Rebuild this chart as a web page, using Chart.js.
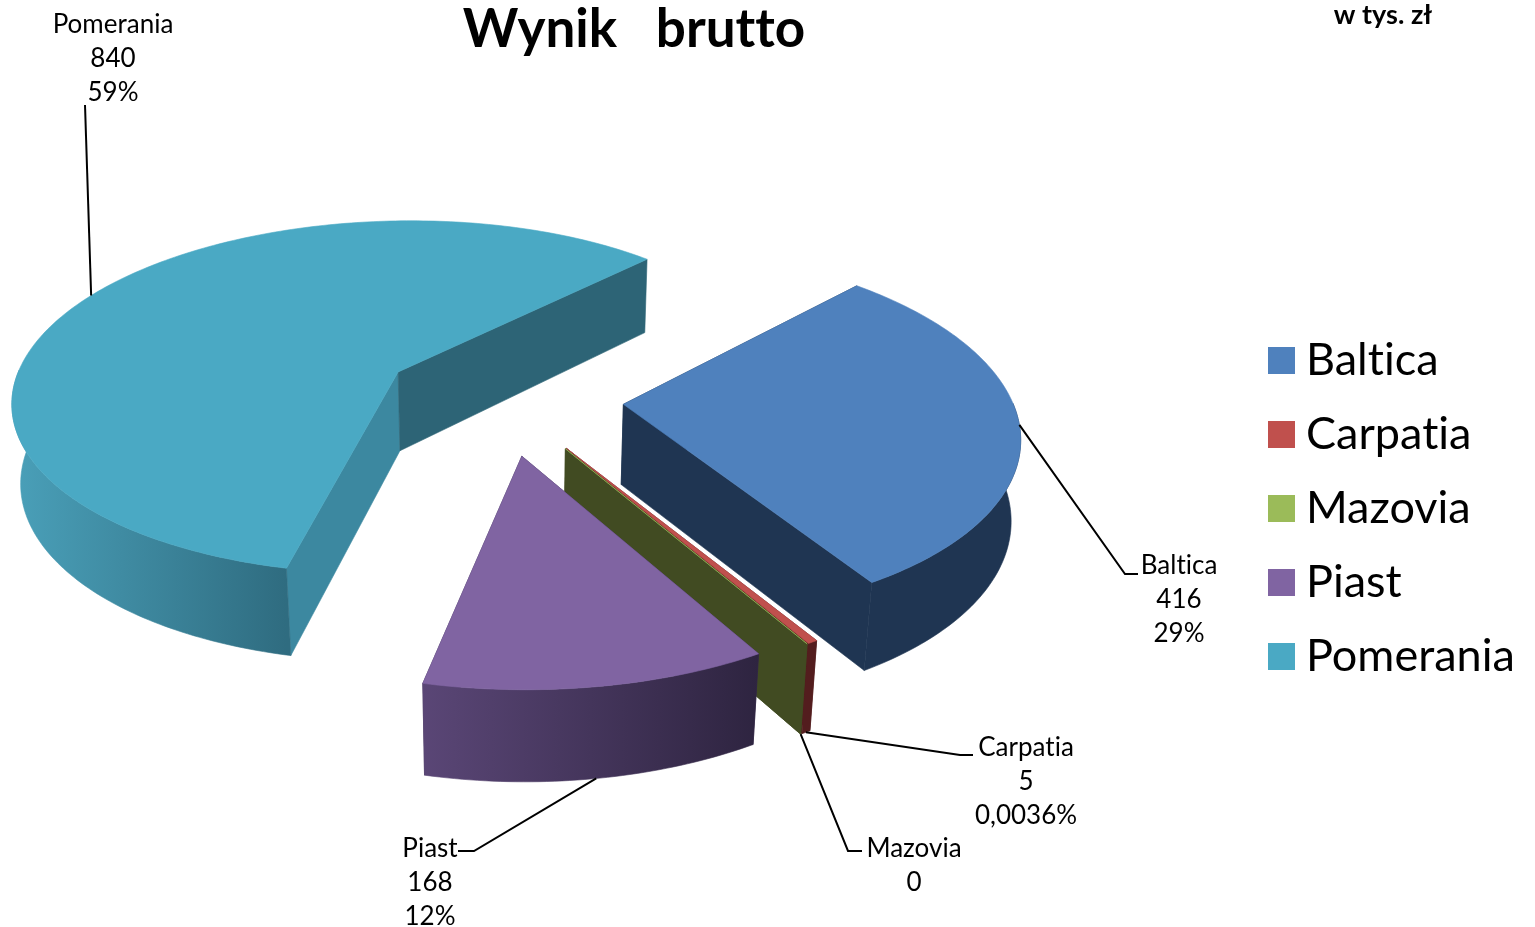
<!DOCTYPE html>
<html>
<head>
<meta charset="utf-8">
<title>Wynik brutto</title>
<script src="https://cdn.jsdelivr.net/npm/chart.js@4"></script>
<style>
    html, body { margin: 0; padding: 0; background: #fff; }
    canvas { display: block; }
</style>
</head>
<body>
<canvas id="pieChart" width="1535" height="927"></canvas>
<script>
const categories = ['Baltica', 'Carpatia', 'Mazovia', 'Piast', 'Pomerania'];
const wynikValues = [416, 5, 0, 168, 840];
const percentLabels = ['29%', '0,0036%', '', '12%', '59%'];

const topColors = ['#4F81BD', '#C0504D', '#9BBB59', '#8064A2', '#4AA9C4'];

// kolory scian bocznych: luk (lewa, prawa strona) i dwie sciany promieniowe
const sideStyles = [
    { arc: ['#1F3552', '#1F3552'], start: '#1F3552', end: '#1F3552' },
    { arc: ['#531D1E', '#531D1E'], start: '#531D1E', end: '#531D1E' },
    { arc: ['#414B22', '#414B22'], start: '#414B22', end: '#414B22' },
    { arc: ['#5A4676', '#2E2440'], start: '#3A2C50', end: '#3A2C50' },
    { arc: ['#4AA0B9', '#2F6C80'], start: '#3C88A0', end: '#2D6476' }
];

// podpisy: srodek tekstu, gorna linia i punkty zalamania linii odniesienia
const labelLayout = [
    { x: 1179, y: 566, bends: [[1125, 574], [1138, 574]], onWall: false },
    { x: 1026, y: 748, bends: [[960, 755], [973, 755]], onWall: true },
    { x: 914, y: 849, bends: [[848, 851], [862, 851]], onWall: true },
    { x: 430, y: 849, bends: [[474, 851], [458, 851]], onWall: true },
    { x: 113, y: 25, bends: [[85, 105]], onWall: false }
];

// kamera dla rzutu 3D
const camera = { cx: 502.5, cy: 398, tilt: 27.7 * Math.PI / 180, dist: 2350 };
const pieRadius = 388;
const explode = 121;
const pieDepth = 92;
const drawOrder = [4, 0, 1, 2, 3];

function project(u, v, w) {
    const y = v * Math.sin(camera.tilt) + w * Math.cos(camera.tilt);
    const z = v * Math.cos(camera.tilt) - w * Math.sin(camera.tilt);
    const s = camera.dist / (camera.dist - z);
    return [camera.cx + s * u, camera.cy + s * y];
}

function fillPoly(ctx, points, fill) {
    ctx.beginPath();
    points.forEach((p, i) => i ? ctx.lineTo(p[0], p[1]) : ctx.moveTo(p[0], p[1]));
    ctx.closePath();
    ctx.fillStyle = fill;
    ctx.fill();
    // cienki obrys tym samym kolorem, zeby nie bylo szwow miedzy scianami
    ctx.strokeStyle = fill;
    ctx.lineWidth = 0.6;
    ctx.stroke();
}

function sliceGeometry(arc) {
    const mid = (arc.startAngle + arc.endAngle) / 2;
    const ox = explode * Math.cos(mid);
    const oy = explode * Math.sin(mid);
    const angles = [];
    const steps = Math.max(2, Math.ceil((arc.endAngle - arc.startAngle) * 60));
    for (let i = 0; i <= steps; i++) {
        angles.push(arc.startAngle + (arc.endAngle - arc.startAngle) * i / steps);
    }
    const rim = angles.map(a => [ox + pieRadius * Math.cos(a), oy + pieRadius * Math.sin(a)]);
    const front = rim.filter((p, k) => Math.sin(angles[k]) > -0.02);
    return { mid, ox, oy, rim, front };
}

const pie3d = {
    id: 'pie3d',
    beforeDatasetDraw(chart) {
        const ctx = chart.ctx;
        const arcs = chart.getDatasetMeta(0).data;
        ctx.save();
        drawOrder.forEach(i => {
            const g = sliceGeometry(arcs[i]);
            const style = sideStyles[i];
            const first = g.rim[0];
            const last = g.rim[g.rim.length - 1];
            const wall = (a, fill) => fillPoly(ctx, [
                project(g.ox, g.oy, 0), project(a[0], a[1], 0),
                project(a[0], a[1], pieDepth), project(g.ox, g.oy, pieDepth)
            ], fill);
            wall(first, style.start);
            wall(last, style.end);

            if (g.front.length > 1) {
                const upper = g.front.map(p => project(p[0], p[1], 0));
                const lower = g.front.map(p => project(p[0], p[1], pieDepth)).reverse();
                const xs = upper.map(p => p[0]);
                const grad = ctx.createLinearGradient(Math.min(...xs), 0, Math.max(...xs), 0);
                grad.addColorStop(0, style.arc[0]);
                grad.addColorStop(1, style.arc[1]);
                fillPoly(ctx, upper.concat(lower), grad);
            }

            const topEdge = g.rim.map(p => project(p[0], p[1], 0));
            fillPoly(ctx, [project(g.ox, g.oy, 0)].concat(topEdge), topColors[i]);
        });
        ctx.restore();
        return false;
    },
    afterDraw(chart) {
        const ctx = chart.ctx;
        const arcs = chart.getDatasetMeta(0).data;
        ctx.save();
        ctx.letterSpacing = '0.01px';
        ctx.strokeStyle = '#000';
        ctx.lineWidth = 2;
        ctx.fillStyle = '#000';
        ctx.textAlign = 'center';
        ctx.textBaseline = 'middle';
        ctx.font = '26px Lato';
        categories.forEach((name, i) => {
            const g = sliceGeometry(arcs[i]);
            const layout = labelLayout[i];
            const anchor = project(
                g.ox + pieRadius * Math.cos(g.mid),
                g.oy + pieRadius * Math.sin(g.mid),
                layout.onWall ? pieDepth : 0
            );
            ctx.beginPath();
            ctx.moveTo(anchor[0], anchor[1]);
            layout.bends.forEach(p => ctx.lineTo(p[0], p[1]));
            ctx.stroke();
            [name, String(wynikValues[i]), percentLabels[i]].forEach((line, k) => {
                if (line) ctx.fillText(line, layout.x, layout.y + k * 34);
            });
        });
        ctx.font = 'bold 53px Lato';
        ctx.fillText('Wynik   brutto', 634, 29.5);
        ctx.font = 'bold 27px Lato';
        ctx.fillText('w tys. zł', 1383, 15);

        // legenda
        ctx.textAlign = 'left';
        ctx.textBaseline = 'alphabetic';
        ctx.font = '45px Lato';
        categories.forEach((name, i) => {
            ctx.fillStyle = topColors[i];
            ctx.fillRect(1268, 347 + i * 74, 27, 27);
            ctx.fillStyle = '#000';
            ctx.fillText(name, 1306, 375 + i * 74);
        });
        ctx.restore();
    }
};

new Chart(document.getElementById('pieChart').getContext('2d'), {
    type: 'pie',
    data: {
        labels: categories,
        datasets: [{
            data: wynikValues,
            backgroundColor: topColors,
            borderWidth: 0
        }]
    },
    options: {
        responsive: false,
        animation: false,
        rotation: 44,
        plugins: {
            tooltip: { enabled: false },
            legend: { display: false }
        }
    },
    plugins: [pie3d]
});
</script>
</body>
</html>
